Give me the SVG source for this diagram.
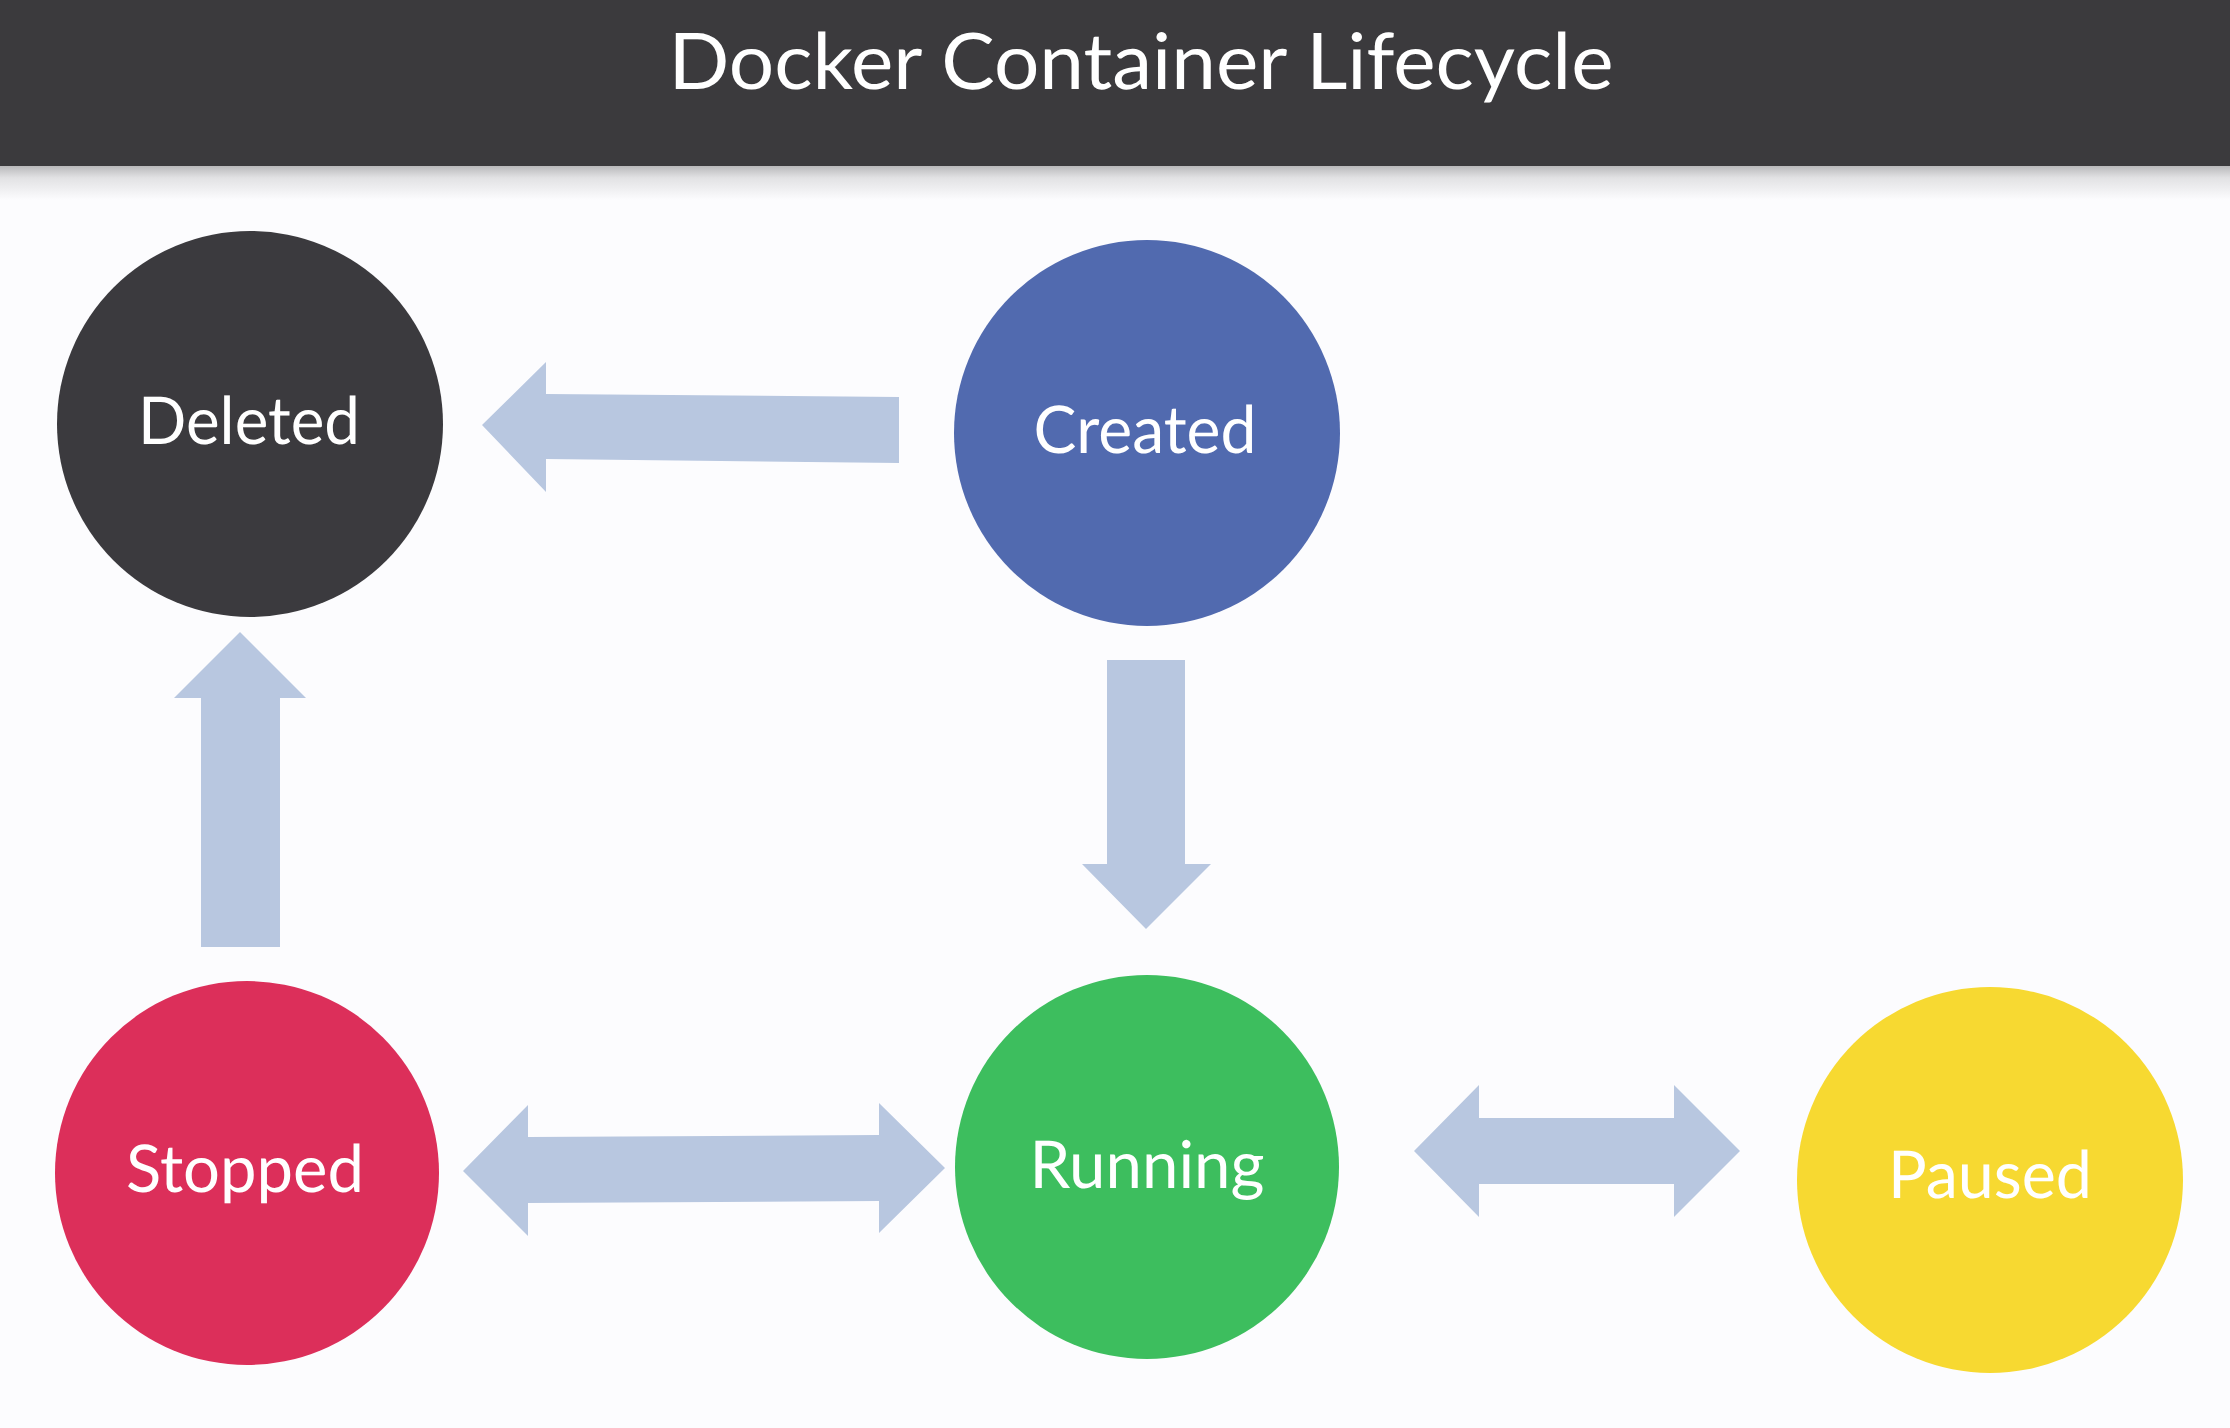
<svg xmlns="http://www.w3.org/2000/svg" width="2230" height="1428" viewBox="0 0 2230 1428" text-rendering="geometricPrecision">
<defs>
<linearGradient id="shadow" x1="0" y1="0" x2="0" y2="1">
<stop offset="0" stop-color="#b9b9bb"/>
<stop offset="0.35" stop-color="#e2e2e4"/>
<stop offset="1" stop-color="#fcfcfe"/>
</linearGradient>
<style>
.lbl{font-family:Lato,"Open Sans","Liberation Sans",sans-serif;font-size:66px;fill:#ffffff;text-anchor:middle;font-kerning:normal}
.ttl{font-family:Lato,"Open Sans","Liberation Sans",sans-serif;font-size:78px;fill:#ffffff;text-anchor:middle}
.arr{fill:#b8c7e0;stroke:none}
</style>
</defs>
<rect x="0" y="0" width="2230" height="1428" fill="#fcfcfe"/>
<g id="header">
<rect x="0" y="166" width="2230" height="34" fill="url(#shadow)"/>
<rect x="0" y="0" width="2230" height="166" fill="#3b3a3d"/>
<text class="ttl" x="1141" y="89" textLength="945" lengthAdjust="spacingAndGlyphs">Docker Container Lifecycle</text>
</g>
<g id="connectors">
<polygon class="arr" points="899,397 899,463 546,459 546,492 482,425 546,362 546,394"/>
<polygon class="arr" points="1107,660 1185,660 1185,864 1211,864 1146,929 1082,864 1107,864"/>
<polygon class="arr" points="201,947 280,947 280,698 306,698 240,632 174,698 201,698"/>
<polygon class="arr" points="463,1171 528,1105 528,1137 879,1135 879,1103 945,1168 879,1233 879,1201 528,1203 528,1236"/>
<polygon class="arr" points="1414,1151 1479,1085 1479,1118 1674,1118 1674,1085 1740,1151 1674,1217 1674,1184 1479,1184 1479,1217"/>
</g>
<g id="node-deleted">
<circle cx="250" cy="424" r="193" fill="#3b3a3e"/>
<text class="lbl" x="249" y="444" textLength="222" lengthAdjust="spacingAndGlyphs">Deleted</text>
</g>
<g id="node-created">
<circle cx="1147" cy="433" r="193" fill="#516aaf"/>
<text class="lbl" x="1145" y="453" textLength="223" lengthAdjust="spacingAndGlyphs">Created</text>
</g>
<g id="node-stopped">
<circle cx="247" cy="1173" r="192" fill="#dc2f5a"/>
<text class="lbl" x="245" y="1192" textLength="238" lengthAdjust="spacingAndGlyphs">Stopped</text>
</g>
<g id="node-running">
<circle cx="1147" cy="1167" r="192" fill="#3dbe5e"/>
<text class="lbl" x="1147" y="1188" textLength="235" lengthAdjust="spacingAndGlyphs">Running</text>
</g>
<g id="node-paused">
<circle cx="1990" cy="1180" r="193" fill="#f7d931"/>
<text class="lbl" x="1990" y="1198" textLength="204" lengthAdjust="spacingAndGlyphs">Paused</text>
</g>
</svg>
